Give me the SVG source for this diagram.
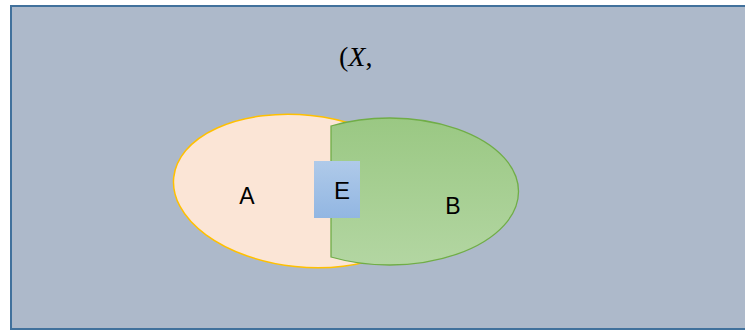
<svg xmlns="http://www.w3.org/2000/svg" width="745" height="331" viewBox="0 0 745 331">
  <defs>
    <linearGradient id="gB" x1="0" y1="0" x2="0" y2="1">
      <stop offset="0" stop-color="#9AC883"/>
      <stop offset="1" stop-color="#B3D6A2"/>
    </linearGradient>
    <linearGradient id="gE" x1="0" y1="0" x2="0" y2="1">
      <stop offset="0" stop-color="#AFCAE9"/>
      <stop offset="1" stop-color="#92B6E2"/>
    </linearGradient>
    <style>
      .lbl { font-family: "Liberation Sans", Arial, sans-serif; font-size: 23px; fill: #000; text-anchor: middle; }
      .math { font-family: "Liberation Serif", "Times New Roman", serif; font-size: 28px; fill: #000; }
    </style>
  </defs>
  <rect width="745" height="331" fill="#FFFFFF"/>
  <g id="frame">
    <rect x="11" y="6" width="760" height="323" fill="#ADB9CA" stroke="#41719C" stroke-width="2"/>
    <text class="math" x="339" y="66"><tspan>(</tspan><tspan font-style="italic">X</tspan><tspan>,</tspan></text>
  </g>
  <g id="A">
    <ellipse cx="303" cy="191" rx="130" ry="76" transform="rotate(6 303 191)" fill="#FBE5D6" stroke="#FFC000" stroke-width="1.5"/>
    <text class="lbl" x="247" y="204">A</text>
  </g>
  <g id="B">
    <path d="M331,126 A129,73.5 0 1 1 331,257 Z" fill="url(#gB)" stroke="#70AD47" stroke-width="1.3"/>
    <text class="lbl" x="453" y="214">B</text>
  </g>
  <g id="E">
    <rect x="314" y="161" width="46" height="57" fill="url(#gE)"/>
    <text class="lbl" x="342" y="199" style="font-size:24px">E</text>
  </g>
  <g id="connectors"/>
</svg>
